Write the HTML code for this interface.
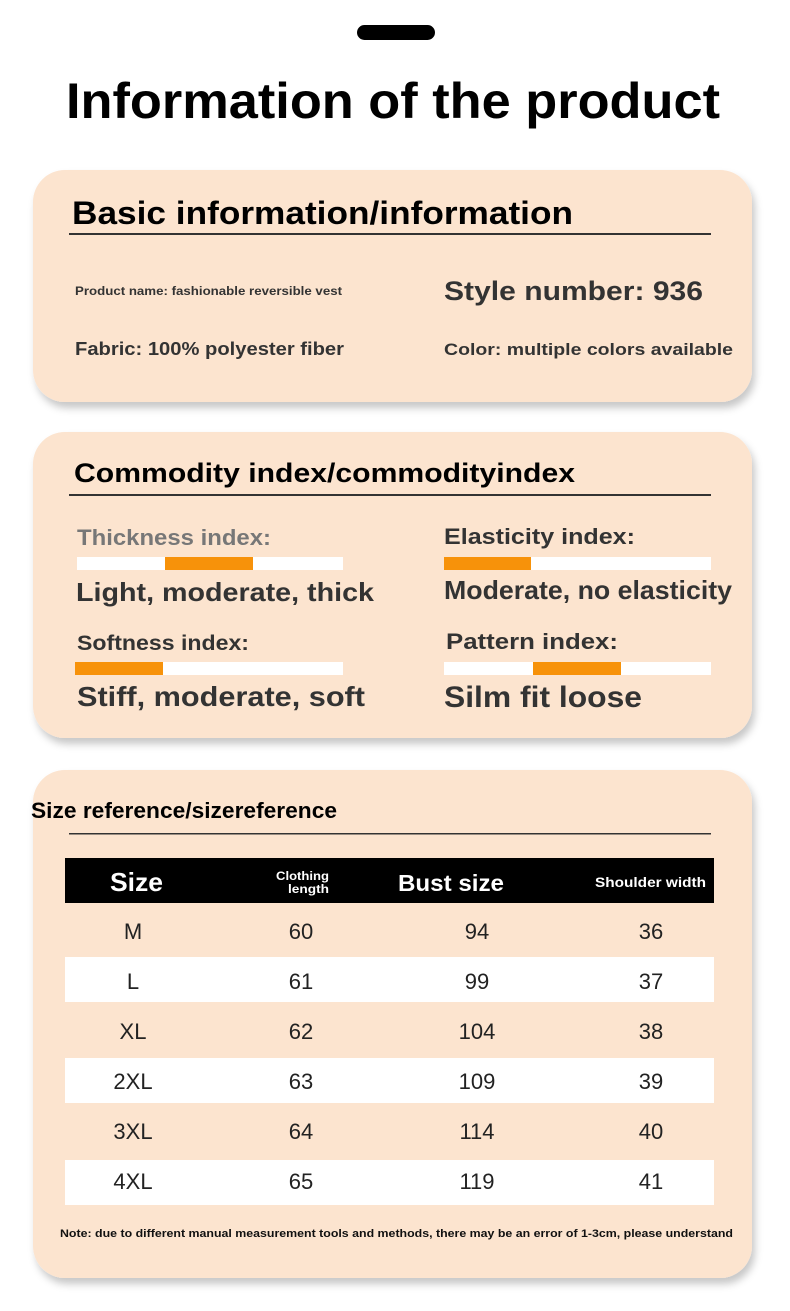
<!DOCTYPE html>
<html><head><meta charset="utf-8"><style>
html,body{margin:0;padding:0;background:#fff;}
svg{display:block;font-family:"Liberation Sans",sans-serif;}
</style></head><body>
<svg width="790" height="1311" viewBox="0 0 790 1311" xmlns="http://www.w3.org/2000/svg">
<defs>
<filter id="sh" x="-10%" y="-10%" width="120%" height="130%">
<feDropShadow dx="3" dy="6" stdDeviation="4" flood-color="#000" flood-opacity="0.22"/>
</filter>
</defs>
<rect width="790" height="1311" fill="#fff"/>
<rect x="357" y="25" width="78" height="15" rx="7.5" fill="#000"/>
<text x="66" y="118" font-size="50" font-weight="bold" fill="#000" textLength="654" lengthAdjust="spacingAndGlyphs">Information of the product</text>

<!-- card 1 -->
<rect x="33" y="170" width="719" height="232" rx="32" fill="#fce4cf" filter="url(#sh)"/>
<text x="72" y="224" font-size="32" font-weight="bold" fill="#000" textLength="501" lengthAdjust="spacingAndGlyphs">Basic information/information</text>
<rect x="69" y="233" width="642" height="2" fill="#333"/>
<text x="75" y="295" font-size="12" font-weight="bold" fill="#333" textLength="267" lengthAdjust="spacingAndGlyphs">Product name: fashionable reversible vest</text>
<text x="444" y="300" font-size="27" font-weight="bold" fill="#333" textLength="259" lengthAdjust="spacingAndGlyphs">Style number: 936</text>
<text x="75" y="355" font-size="18" font-weight="bold" fill="#333" textLength="269" lengthAdjust="spacingAndGlyphs">Fabric: 100% polyester fiber</text>
<text x="444" y="355" font-size="17" font-weight="bold" fill="#333" textLength="289" lengthAdjust="spacingAndGlyphs">Color: multiple colors available</text>

<!-- card 2 -->
<rect x="33" y="432" width="719" height="306" rx="32" fill="#fce4cf" filter="url(#sh)"/>
<text x="74" y="482" font-size="27" font-weight="bold" fill="#000" textLength="501" lengthAdjust="spacingAndGlyphs">Commodity index/commodityindex</text>
<rect x="69" y="494" width="642" height="2" fill="#333"/>
<text x="77" y="545" font-size="22" font-weight="bold" fill="#777" textLength="194" lengthAdjust="spacingAndGlyphs">Thickness index:</text>
<rect x="77" y="557" width="266" height="13" fill="#fff"/><rect x="165" y="557" width="88" height="13" fill="#f7920a"/>
<text x="76" y="601" font-size="26" font-weight="bold" fill="#333" textLength="298" lengthAdjust="spacingAndGlyphs">Light, moderate, thick</text>
<text x="444" y="544" font-size="22" font-weight="bold" fill="#333" textLength="191" lengthAdjust="spacingAndGlyphs">Elasticity index:</text>
<rect x="444" y="557" width="267" height="13" fill="#fff"/><rect x="444" y="557" width="87" height="13" fill="#f7920a"/>
<text x="444" y="599" font-size="26" font-weight="bold" fill="#333" textLength="288" lengthAdjust="spacingAndGlyphs">Moderate, no elasticity</text>
<text x="77" y="650" font-size="21" font-weight="bold" fill="#333" textLength="172" lengthAdjust="spacingAndGlyphs">Softness index:</text>
<rect x="75" y="662" width="268" height="13" fill="#fff"/><rect x="75" y="662" width="88" height="13" fill="#f7920a"/>
<text x="77" y="706" font-size="28" font-weight="bold" fill="#333" textLength="288" lengthAdjust="spacingAndGlyphs">Stiff, moderate, soft</text>
<text x="446" y="649" font-size="22" font-weight="bold" fill="#333" textLength="172" lengthAdjust="spacingAndGlyphs">Pattern index:</text>
<rect x="444" y="662" width="267" height="13" fill="#fff"/><rect x="533" y="662" width="88" height="13" fill="#f7920a"/>
<text x="444" y="707" font-size="30" font-weight="bold" fill="#333" textLength="198" lengthAdjust="spacingAndGlyphs">Silm fit loose</text>

<!-- card 3 -->
<rect x="33" y="770" width="719" height="508" rx="32" fill="#fce4cf" filter="url(#sh)"/>
<text x="31" y="818" font-size="22" font-weight="bold" fill="#000" textLength="306" lengthAdjust="spacingAndGlyphs">Size reference/sizereference</text>
<rect x="69" y="833" width="642" height="1.5" fill="#333"/>
<rect x="65" y="858" width="649" height="45" fill="#000"/>
<text x="110" y="891" font-size="26" font-weight="bold" fill="#fff" textLength="53" lengthAdjust="spacingAndGlyphs">Size</text>
<text x="276" y="880" font-size="12" font-weight="bold" fill="#fff" textLength="53" lengthAdjust="spacingAndGlyphs">Clothing</text>
<text x="288" y="893" font-size="12" font-weight="bold" fill="#fff" textLength="41" lengthAdjust="spacingAndGlyphs">length</text>
<text x="398" y="891" font-size="23" font-weight="bold" fill="#fff" textLength="106" lengthAdjust="spacingAndGlyphs">Bust size</text>
<text x="595" y="887" font-size="14" font-weight="bold" fill="#fff" textLength="111" lengthAdjust="spacingAndGlyphs">Shoulder width</text>

<rect x="65" y="957" width="649" height="45" fill="#fff"/>
<rect x="65" y="1058" width="649" height="45" fill="#fff"/>
<rect x="65" y="1160" width="649" height="45" fill="#fff"/>

<g font-size="22" fill="#222" text-anchor="middle">
<text x="133" y="939">M</text><text x="301" y="939">60</text><text x="477" y="939">94</text><text x="651" y="939">36</text>
<text x="133" y="989">L</text><text x="301" y="989">61</text><text x="477" y="989">99</text><text x="651" y="989">37</text>
<text x="133" y="1039">XL</text><text x="301" y="1039">62</text><text x="477" y="1039">104</text><text x="651" y="1039">38</text>
<text x="133" y="1089">2XL</text><text x="301" y="1089">63</text><text x="477" y="1089">109</text><text x="651" y="1089">39</text>
<text x="133" y="1139">3XL</text><text x="301" y="1139">64</text><text x="477" y="1139">114</text><text x="651" y="1139">40</text>
<text x="133" y="1189">4XL</text><text x="301" y="1189">65</text><text x="477" y="1189">119</text><text x="651" y="1189">41</text>
</g>
<text x="60" y="1237" font-size="11" font-weight="bold" fill="#111" textLength="673" lengthAdjust="spacingAndGlyphs">Note: due to different manual measurement tools and methods, there may be an error of 1-3cm, please understand</text>
</svg>
</body></html>
